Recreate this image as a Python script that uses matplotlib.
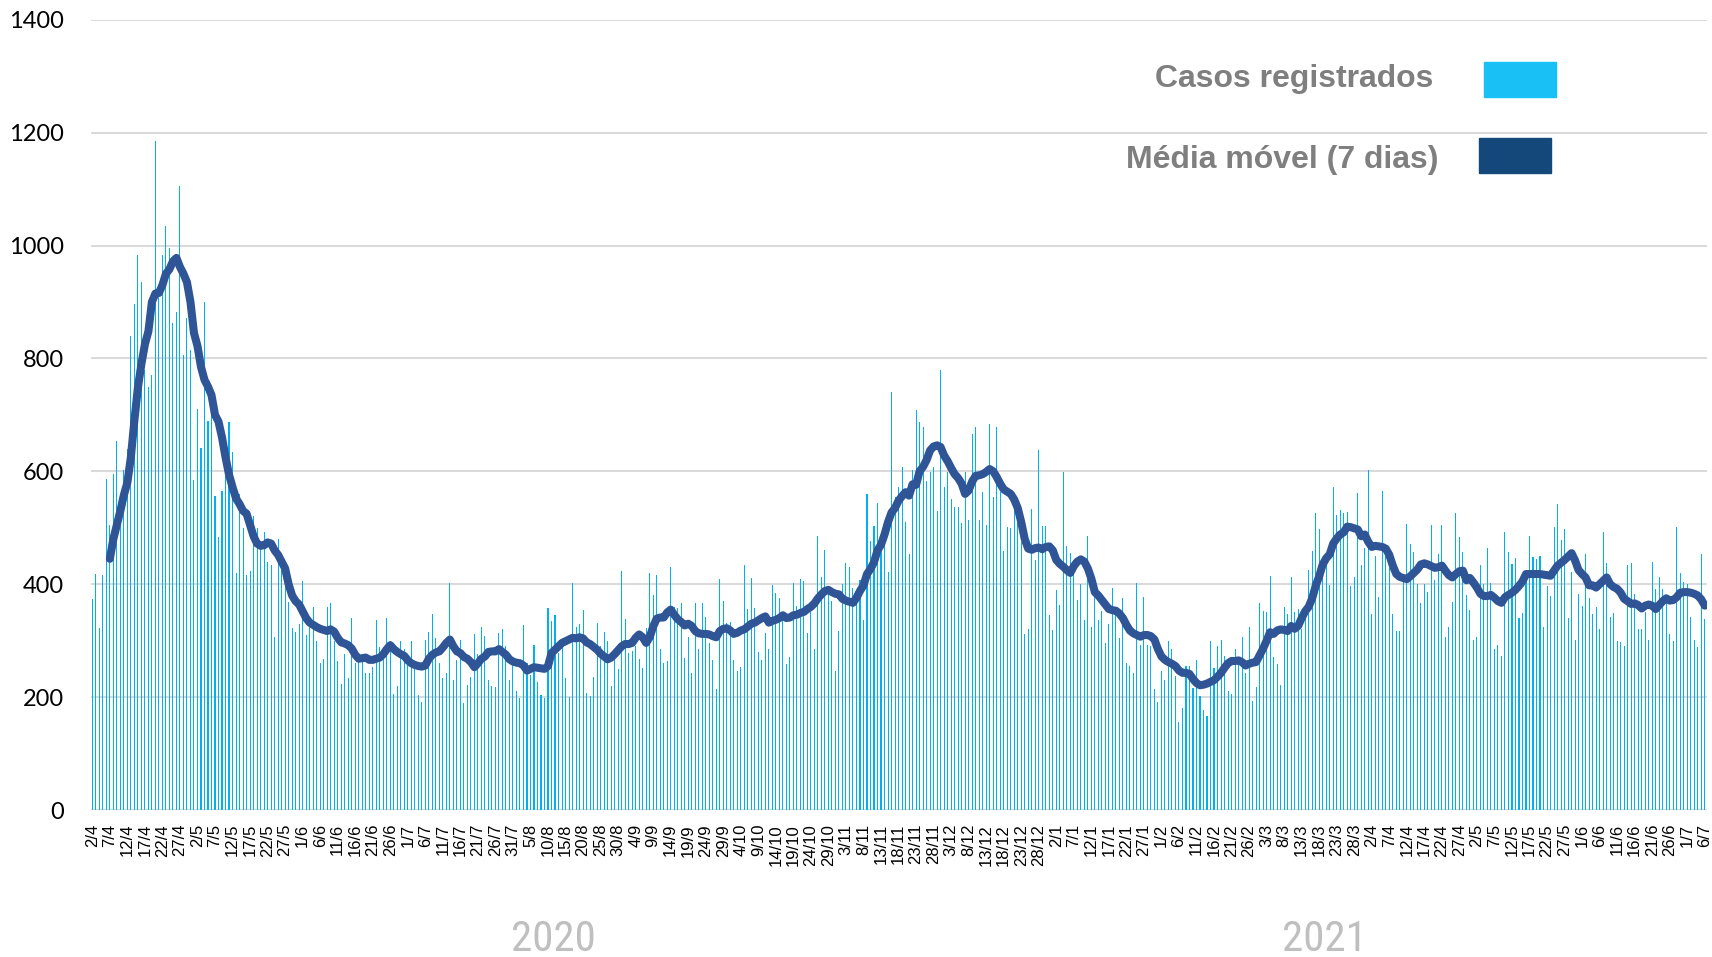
import matplotlib
matplotlib.use("Agg")
import matplotlib.pyplot as plt
from matplotlib import font_manager
from matplotlib.patches import Rectangle
import numpy as np
import pandas as pd

# === Dados: casos diários de 02/04/2020 a 06/07/2021 ===
inicio = "2020-04-02"
fim = "2021-07-06"

casos = [
    374, 418, 323, 416, 586, 505, 596, 653, 560, 602,
    640, 840, 897, 984, 935, 780, 750, 770, 1186, 920,
    983, 1034, 996, 863, 883, 1106, 806, 871, 815, 584,
    710, 641, 900, 690, 700, 557, 484, 565, 650, 687,
    634, 420, 560, 499, 416, 424, 520, 500, 470, 493,
    440, 434, 307, 480, 430, 400, 368, 323, 315, 330,
    406, 310, 329, 360, 300, 260, 268, 360, 366, 300,
    264, 224, 276, 234, 341, 260, 279, 273, 243, 242,
    253, 336, 288, 275, 341, 300, 205, 220, 299, 286,
    258, 300, 250, 204, 192, 302, 315, 347, 305, 260,
    233, 242, 402, 231, 265, 301, 190, 221, 235, 311,
    276, 324, 308, 230, 220, 218, 314, 320, 290, 230,
    260, 211, 199, 328, 260, 240, 292, 227, 203, 199,
    357, 335, 345, 279, 299, 234, 201, 403, 325, 329,
    354, 208, 202, 236, 331, 290, 316, 300, 220, 270,
    250, 424, 338, 279, 282, 291, 267, 252, 323, 419,
    381, 416, 285, 260, 264, 431, 359, 357, 366, 269,
    306, 243, 367, 285, 366, 342, 296, 265, 215, 409,
    370, 332, 333, 265, 246, 253, 434, 356, 411, 357,
    280, 266, 314, 285, 399, 385, 375, 338, 259, 271,
    403, 362, 410, 406, 314, 353, 286, 485, 413, 461,
    391, 370, 246, 317, 400, 437, 430, 394, 389, 408,
    337, 559, 477, 504, 543, 463, 512, 421, 741, 554,
    573, 608, 511, 453, 602, 708, 687, 679, 583, 599,
    607, 530, 780, 572, 598, 551, 536, 537, 508, 599,
    514, 666, 678, 514, 563, 505, 684, 554, 678, 563,
    458, 501, 499, 545, 521, 474, 312, 320, 534, 443,
    637, 504, 504, 345, 319, 389, 363, 598, 468, 456,
    416, 372, 400, 337, 485, 324, 382, 337, 353, 296,
    329, 394, 346, 304, 375, 260, 255, 242, 403, 292,
    377, 293, 290, 215, 191, 247, 231, 299, 286, 237,
    156, 181, 255, 255, 217, 265, 202, 178, 166, 299,
    252, 291, 302, 272, 211, 205, 286, 267, 307, 242,
    324, 193, 218, 366, 353, 351, 414, 271, 258, 221,
    360, 347, 412, 350, 356, 320, 362, 425, 459, 527,
    498, 427, 447, 398, 573, 522, 532, 527, 528, 397,
    412, 561, 434, 465, 602, 348, 450, 377, 566, 467,
    428, 347, 317, 317, 416, 507, 471, 457, 400, 367,
    401, 386, 505, 407, 453, 505, 307, 325, 369, 526,
    484, 457, 380, 354, 301, 307, 434, 400, 464, 403,
    286, 292, 272, 493, 457, 435, 447, 340, 349, 406,
    486, 448, 444, 450, 325, 397, 379, 501, 542, 479,
    497, 340, 421, 301, 382, 362, 453, 375, 347, 360,
    320, 493, 437, 342, 349, 299, 298, 290, 434, 437,
    382, 320, 321, 350, 301, 440, 392, 413, 391, 370,
    311, 299, 502, 419, 404, 400, 342, 302, 289, 454,
    338,
]

# média móvel de 7 dias (sem valor nos primeiros dias)
media_movel = [
    None, None, None, None, None, 445, 480, 505, 530, 558,
    580, 625, 690, 748, 790, 825, 848, 900, 915, 916,
    930, 950, 958, 972, 978, 962, 950, 935, 900, 845,
    822, 785, 762, 750, 735, 700, 688, 660, 625, 594,
    572, 552, 542, 530, 525, 505, 485, 472, 468, 469,
    474, 472, 460, 452, 440, 428, 400, 380, 370, 364,
    352, 340, 332, 328, 324, 321, 319, 317, 320, 316,
    305, 297, 295, 292, 286, 275, 268, 269, 270, 266,
    266, 268, 270, 276, 285, 292, 285, 280, 276, 273,
    265, 260, 257, 255, 254, 256, 268, 275, 279, 281,
    288, 296, 302, 290, 281, 278, 271, 268, 262, 253,
    260, 268, 272, 280, 281, 281, 285, 280, 275, 267,
    263, 261, 260, 256, 247, 250, 253, 252, 251, 250,
    255, 278, 284, 290, 296, 299, 302, 305, 304, 306,
    304, 297, 294, 289, 284, 277, 272, 267, 270, 276,
    283, 290, 294, 294, 296, 305, 311, 306, 296, 306,
    325, 339, 341, 341, 350, 355, 346, 338, 333, 327,
    330, 326, 317, 313, 312, 312, 311, 308, 306, 317,
    321, 322, 318, 312, 314, 318, 320, 325, 330, 332,
    336, 340, 343, 332, 335, 337, 340, 345, 340, 341,
    345, 346, 349, 351, 356, 360, 366, 375, 382, 388,
    390, 386, 383, 382, 374, 371, 369, 367, 376, 388,
    398, 418, 427, 439, 460, 470, 488, 510, 527, 535,
    548, 556, 563, 557, 577, 576, 600, 608, 620, 637,
    644, 646, 643, 628, 618, 606, 595, 588, 578, 560,
    566, 582, 592, 593, 595, 599, 604, 600, 590, 578,
    568, 564, 560, 550, 535, 510, 480, 463, 461, 464,
    465, 462, 466, 467, 460, 443, 436, 431, 425, 420,
    432, 440, 444, 440, 428, 410, 386, 380, 372, 364,
    356, 354, 353, 348, 340, 328, 318, 313, 310, 307,
    310, 310, 308, 302, 285, 272, 266, 262, 259, 255,
    247, 243, 243, 241, 232, 225, 221, 222, 224, 227,
    230, 236, 243, 252, 260, 264, 264, 265, 262, 256,
    259, 261, 262, 274, 286, 300, 315, 312, 318, 320,
    319, 317, 326, 321, 326, 340, 352, 360, 375, 397,
    414, 435, 446, 453, 472, 481, 488, 492, 502, 501,
    499, 497, 485, 488, 475, 466, 468, 467, 466, 463,
    452, 433, 418, 413, 411, 409, 414, 420, 426, 435,
    437, 435, 432, 429, 430, 433, 424, 416, 412, 418,
    423, 424, 407, 411, 403, 394, 383, 379, 379, 381,
    376, 370, 367, 377, 381, 385, 390, 397, 405, 418,
    418, 418, 418, 418, 417, 416, 415, 424, 433, 438,
    443, 449, 455, 442, 425, 418, 412, 398, 398, 394,
    400, 406, 412, 400, 395, 392, 385, 374, 370, 365,
    366, 363, 357, 362, 364, 362, 356, 363, 370, 375,
    371, 372, 377, 385, 386, 386, 385, 383, 380, 373,
    362,
]

anos = ["2020", "2021"]

datas = pd.date_range(inicio, fim, freq="D")
assert len(casos) == len(datas) == len(media_movel)

x = np.arange(len(datas))
mm = np.array([np.nan if v is None else v for v in media_movel], dtype=float)
rotulos = [f"{d.day}/{d.month}" for d in datas]

# fonte estreita para os anos, se houver alguma instalada
instaladas = {f.name for f in font_manager.fontManager.ttflist}
fonte_anos = next((n for n in ["Liberation Sans Narrow", "DejaVu Sans Condensed",
                               "Roboto Condensed", "Liberation Sans"]
                   if n in instaladas), "DejaVu Sans")

# === Gráfico ===
fig = plt.figure(figsize=(17.12, 9.57), dpi=100)
ax = fig.add_axes([0.0529, 0.1536, 0.9439, 0.8258])

ax.bar(x, casos, width=0.3, color="#00b0f0", linewidth=0, zorder=2)
ax.plot(x, mm, color="#2f5597", linewidth=5.8,
        solid_capstyle="round", solid_joinstyle="round", zorder=3)

ax.set_xlim(-0.5, len(x) - 0.5)
ax.set_ylim(0, 1400)
ax.set_yticks(range(0, 1401, 200))
ax.yaxis.grid(True, color="#d9d9d9", linewidth=1.4, zorder=0)
ax.set_axisbelow(True)
for s in ax.spines.values():
    s.set_visible(False)
ax.axhline(0, color="#d9d9d9", linewidth=1.6, zorder=1)

ax.set_xticks(x[::5])
ax.set_xticklabels(rotulos[::5], rotation=90, fontsize=12,
                   family="Liberation Sans")
ax.tick_params(axis="x", length=0, pad=10)
ax.tick_params(axis="y", length=0, pad=19, labelsize=17)
for t in ax.get_yticklabels():
    t.set_family("Lato")

# legenda manual (texto à esquerda, retângulo à direita)
fig.text(0.8373, 0.9179, "Casos registrados", ha="right", va="center",
         fontsize=23, fontweight="bold", color="#7f7f7f",
         family="Liberation Sans")
fig.text(0.8405, 0.8323, "Média móvel (7 dias)", ha="right", va="center",
         fontsize=23, fontweight="bold", color="#7f7f7f",
         family="Liberation Sans")
fig.patches.append(Rectangle((0.8667, 0.8984), 0.0421, 0.0366,
                             transform=fig.transFigure, color="#19c0f5"))
fig.patches.append(Rectangle((0.8641, 0.8197), 0.0421, 0.0366,
                             transform=fig.transFigure, color="#15487a"))

# anos sob o eixo
for xpos, ano in zip([0.3234, 0.7736], anos):
    fig.text(xpos, 0.006, ano, ha="center", va="baseline", fontsize=31,
             color="#bfbfbf", family=fonte_anos)

fig.savefig("out.png", dpi=100)
